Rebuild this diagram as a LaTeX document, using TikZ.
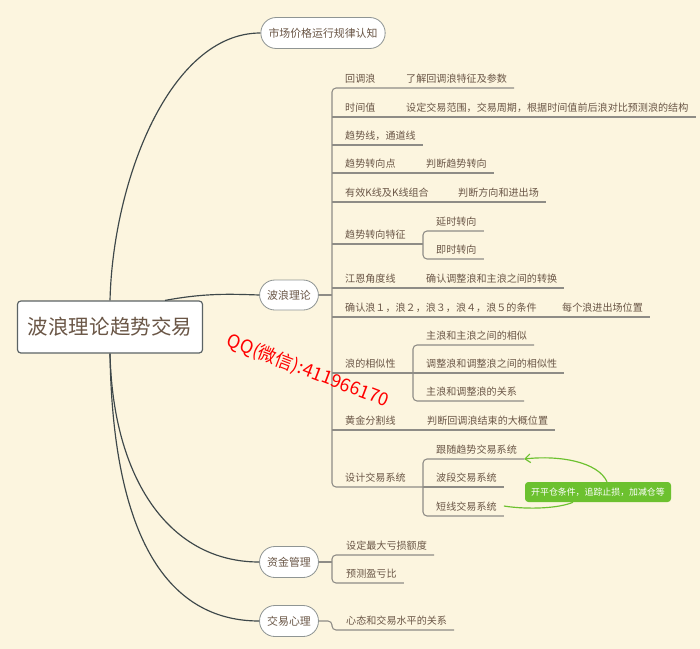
\documentclass[tikz,border=0pt]{standalone}
\usepackage{fontspec}
\newfontfamily\cjk{Noto Sans CJK SC}
\usetikzlibrary{arrows.meta}
\definecolor{bg}{HTML}{FCF5DF}
\definecolor{txt}{HTML}{6A5646}
\definecolor{brline}{HTML}{8E8C86}
\definecolor{trunk}{HTML}{3E484A}
\definecolor{pillline}{HTML}{8F9594}
\definecolor{notegreen}{HTML}{6CC12F}

\begin{document}
\begin{tikzpicture}[x=0.03cm, y=-0.03cm,
  root/.style={draw=trunk!85, fill=white, rounded corners=0.1cm, line width=1pt, minimum width=5.55cm, minimum height=1.56cm, font=\cjk\fontsize{17.5}{20}\selectfont, text=txt},
  topic/.style={draw=pillline, fill=white, rounded corners=0.46cm, line width=0.7pt, minimum height=0.93cm, inner xsep=0.23cm, font=\cjk\fontsize{9.3}{11}\selectfont, text=txt},
  leaf/.style={anchor=south west, inner xsep=0.21cm, inner ysep=3.3pt, text height=0.88em, text depth=0.12em, font=\cjk\fontsize{8.6}{10}\selectfont, text=txt},
  br/.style={draw=brline, line width=0.9pt},
  trk/.style={draw=trunk, line width=1pt},
  note/.style={fill=notegreen, rounded corners=0.1cm, text=white, font=\cjk\fontsize{7.6}{9}\selectfont, minimum width=4.38cm, minimum height=0.6cm},
  link/.style={draw=notegreen, line width=1pt}
]
  \path[use as bounding box, fill=bg] (0,0) rectangle (700,649);

  \node[root] (main) at (110,327) {波浪理论趋势交易};
  \node[topic] (market) at (323,33) {市场价格运行规律认知};
  \node[topic, minimum height=0.9cm] (wave) at (289,295) {波浪理论};
  \node[topic] (money) at (289,562) {资金管理};
  \node[topic] (mind) at (289,621) {交易心理};

  \coordinate (sp) at (332,0);
  \coordinate (sp2) at (423,0);
  \coordinate (sp3) at (413,0);
  \coordinate (sp4) at (423,0);
  \coordinate (msp) at (332,0);

  \node[leaf] (c1) at (338,88) {回调浪};
  \node[leaf] (c1b) at (399,88) {了解回调浪特征及参数};
  \node[leaf] (c2) at (338,117) {时间值};
  \node[leaf] (c2b) at (399,117) {设定交易范围，交易周期，根据时间值前后浪对比预测浪的结构};
  \node[leaf] (c3) at (338,145) {趋势线，通道线};
  \node[leaf] (c4) at (338,173) {趋势转向点};
  \node[leaf] (c4b) at (419,173) {判断趋势转向};
  \node[leaf] (c5) at (338,202) {有效K线及K线组合};
  \node[leaf] (c5b) at (451,202) {判断方向和进出场};
  \node[leaf] (c6) at (338,244) {趋势转向特征};
  \node[leaf] (c6a) at (429,231) {延时转向};
  \node[leaf] (c6b) at (429,259) {即时转向};
  \node[leaf] (c7) at (338,288) {江恩角度线};
  \node[leaf] (c7b) at (419,288) {确认调整浪和主浪之间的转换};
  \node[leaf] (c8) at (338,317) {确认浪１，浪２，浪３，浪４，浪５的条件};
  \node[leaf] (c8b) at (555,317) {每个浪进出场位置};
  \node[leaf] (c9) at (338,373) {浪的相似性};
  \node[leaf] (c9a) at (419,345) {主浪和主浪之间的相似};
  \node[leaf] (c9b) at (419,373) {调整浪和调整浪之间的相似性};
  \node[leaf] (c9c) at (419,401) {主浪和调整浪的关系};
  \node[leaf] (c10) at (338,430) {黄金分割线};
  \node[leaf] (c10b) at (420,430) {判断回调浪结束的大概位置};
  \node[leaf] (c11) at (338,487) {设计交易系统};
  \node[leaf] (c11a) at (429,459) {跟随趋势交易系统};
  \node[leaf] (c11b) at (429,487) {波段交易系统};
  \node[leaf] (c11c) at (429,516) {短线交易系统};

  \node[leaf] (m1) at (339,555) {设定最大亏损额度};
  \node[leaf] (m2) at (339,583) {预测盈亏比};
  \node[leaf] (p1) at (339,630) {心态和交易水平的关系};

  \draw[trk] (main.north) .. controls (113,180) and (170,33) .. (market.west);
  \draw[trk] ([xshift=1.65cm]main.north) .. controls (205,293) and (230,294) .. (wave.west);
  \draw[trk] (main.south) .. controls (113,480) and (170,562) .. (money.west);
  \draw[trk] (main.south) .. controls (113,550) and (175,621) .. (mind.west);

  \draw[br] (wave.east) -- (wave -| sp);
  \draw[br, rounded corners=0.12cm] (c1b.south east) -- (sp |- c1.south) -- (sp |- c11.south) -- (sp4 |- c11.south);
  \foreach \a/\b in {c2/c2b, c3/c3, c4/c4b, c5/c5b, c7/c7b, c8/c8b, c10/c10b}
    \draw[br] (sp |- \a.south) -- (\b.south east);
  \draw[br] (sp |- c6.south) -- (sp2 |- c6.south);
  \draw[br] (sp |- c9.south) -- (sp3 |- c9.south);
  \draw[br, rounded corners=0.12cm] (c6a.south east) -- (sp2 |- c6a.south) -- (sp2 |- c6b.south) -- (c6b.south east);
  \draw[br, rounded corners=0.12cm] (c9a.south east) -- (sp3 |- c9a.south) -- (sp3 |- c9c.south) -- (c9c.south east);
  \draw[br] (sp3 |- c9b.south) -- (c9b.south east);
  \draw[br, rounded corners=0.12cm] (c11a.south east) -- (sp4 |- c11a.south) -- (sp4 |- c11c.south) -- (c11c.south east);
  \draw[br] (sp4 |- c11b.south) -- (c11b.south east);

  \draw[br] (money.east) -- (money -| msp);
  \draw[br, rounded corners=0.12cm] (m1.south east) -- (msp |- m1.south) -- (msp |- m2.south) -- (m2.south east);
  \draw[br, rounded corners=0.12cm] (mind.east) -| (msp |- p1.south) -- (p1.south east);

  \node[note] (tip) at (598,492) {开平仓条件，追踪止损，加减仓等};
  \draw[link, -{Straight Barb[length=1.6mm, width=2.6mm]}] ([xshift=0.27cm]tip.north) .. controls (598,462) and (560,455) .. (c11a.south east);
  \draw[link] ([xshift=-0.75cm]tip.south) .. controls (560,508) and (530,510) .. (c11c.east);

  \node[rotate=-21, text=red, font=\cjk\fontsize{15.5}{18}\selectfont] (qq) at (308,371) {QQ(微信):411966170};
\end{tikzpicture}
\end{document}
